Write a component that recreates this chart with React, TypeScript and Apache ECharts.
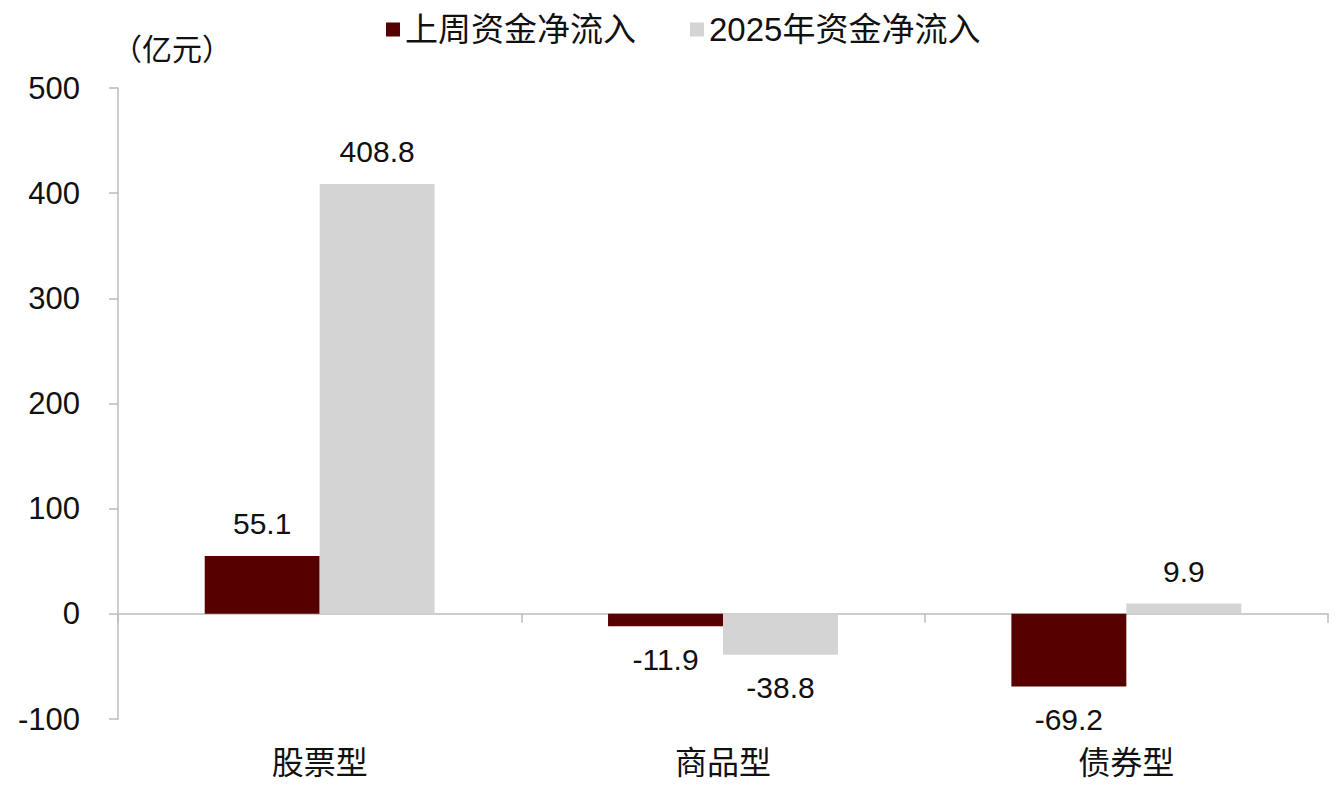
import React, { useEffect, useRef } from "react";
import * as echarts from "echarts";

const categories = ["股票型", "商品型", "债券型"];
const lastWeek = [55.1, -11.9, -69.2];
const ytd2025 = [408.8, -38.8, 9.9];
const seriesNames = ["上周资金净流入", "2025年资金净流入"];
const unitLabel = "（亿元）";

const FONT = "'Liberation Sans', Arial, 'Noto Sans CJK SC', sans-serif";

function toData(vals: number[]) {
  return vals.map((v) => ({
    value: v,
    label: { position: v >= 0 ? "top" : "bottom", distance: v >= 0 ? 17 : 18 },
  }));
}

export default function App() {
  const ref = useRef<HTMLDivElement>(null);
  useEffect(() => {
    if (!ref.current) return;
    const chart = echarts.init(ref.current, undefined, { renderer: "svg" });
    const labelStyle = {
      show: true,
      fontSize: 30,
      color: "#111",
      fontFamily: FONT,
      formatter: (p: any) => Number(p.value).toFixed(1),
    };
    chart.setOption({
      animation: false,
      backgroundColor: "#ffffff",
      textStyle: { fontFamily: FONT },
      legend: {
        top: 8,
        left: 381,
        itemWidth: 14,
        itemHeight: 14,
        itemGap: 54,
        icon: "rect",
        textStyle: { fontSize: 33, color: "#111", fontFamily: FONT },
        data: seriesNames,
      },
      grid: { left: 118, right: 10, top: 88, bottom: 76, containLabel: false, outerBoundsMode: "none" },
      xAxis: {
        type: "category",
        data: categories,
        axisLine: { onZero: true, lineStyle: { color: "#bdbdbd", width: 1.5 } },
        axisTick: { show: true, length: 9, lineStyle: { color: "#bdbdbd", width: 1.5 } },
        axisLabel: { margin: 28, fontSize: 32, color: "#111", fontFamily: FONT },
      },
      yAxis: {
        type: "value",
        min: -100,
        max: 500,
        interval: 100,
        name: unitLabel,
        nameLocation: "end",
        nameGap: 24,
        nameTextStyle: { fontSize: 30, color: "#111", align: "left", fontFamily: FONT, padding: [0, 0, 0, -6] },
        splitLine: { show: false },
        axisLine: { show: true, lineStyle: { color: "#bdbdbd", width: 1.5 } },
        axisTick: { show: true, length: 9, lineStyle: { color: "#bdbdbd", width: 1.5 } },
        axisLabel: { margin: 38, fontSize: 31, color: "#111", fontFamily: FONT },
      },
      series: [
        {
          name: seriesNames[0],
          type: "bar",
          data: toData(lastWeek),
          itemStyle: { color: "#560000" },
          barGap: "0%",
          barCategoryGap: "43%",
          label: labelStyle,
        },
        {
          name: seriesNames[1],
          type: "bar",
          data: toData(ytd2025),
          itemStyle: { color: "#d4d4d4" },
          barGap: "0%",
          barCategoryGap: "43%",
          label: labelStyle,
        },
      ],
    });
    return () => chart.dispose();
  }, []);
  return (
    <div
      ref={ref}
      style={{ position: "fixed", left: 0, top: 0, width: 1338, height: 795, background: "#fff" }}
    />
  );
}
